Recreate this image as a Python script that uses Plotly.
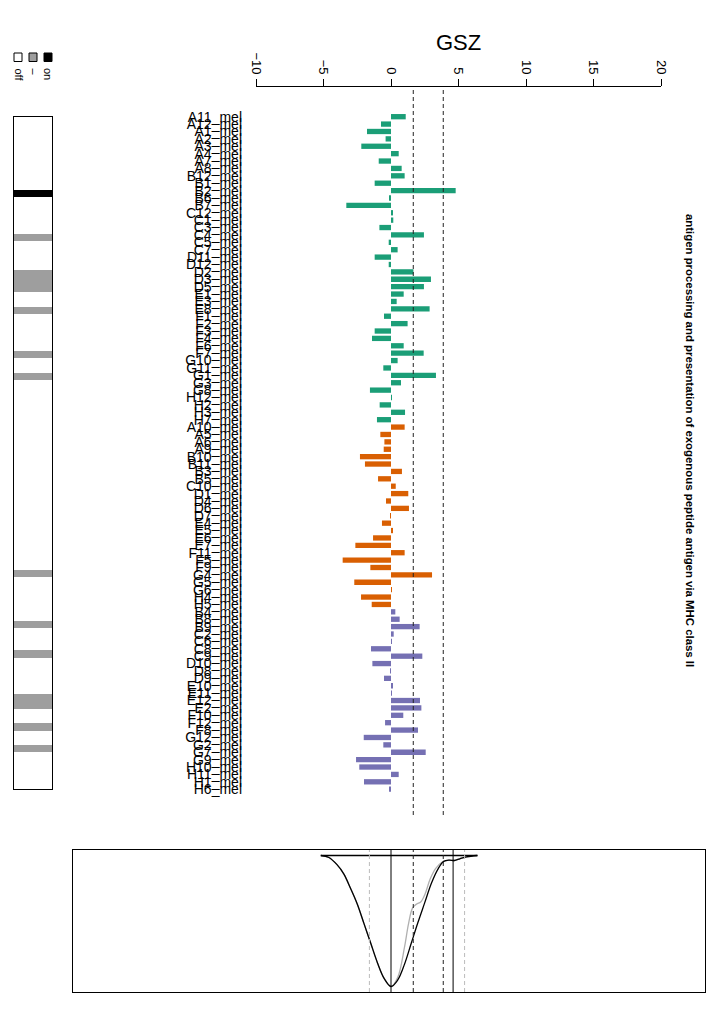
import plotly.graph_objects as go

W, H = 720, 1018

# ---------------- data ----------------
wells_green = ["A11", "A12", "A1", "A2", "A3", "A4", "A7", "A8", "B12", "B1", "B2", "B6", "B7",
               "C12", "C1", "C3", "C4", "C5", "C7", "D11", "D12", "D2", "D3", "D5", "E1", "E3",
               "E8", "F1", "F2", "F3", "F4", "F6", "F7", "G10", "G11", "G1", "G3", "G8", "H12",
               "H2", "H3", "H7"]
gsz_green = [1.09, -0.74, -1.78, -0.40, -2.20, 0.57, -0.91, 0.79, 1.01, -1.21, 4.79, -0.10, -3.31,
             0.15, 0.17, -0.86, 2.44, -0.17, 0.49, -1.21, -0.17, 1.66, 2.96, 2.44, 0.94, 0.42,
             2.86, -0.52, 1.23, -1.21, -1.41, 0.94, 2.42, 0.49, -0.57, 3.33, 0.74, -1.56, 0.07,
             -0.84, 1.04, -1.04]

wells_orange = ["A10", "A5", "A6", "A9", "B10", "B11", "B3", "B5", "C10", "D1", "D4", "D6", "D7",
                "E4", "E5", "E6", "E7", "F11", "F5", "F9", "G4", "G5", "G6", "H4", "H5"]
gsz_orange = [1.01, -0.79, -0.49, -0.54, -2.30, -1.93, 0.81, -0.96, 0.35, 1.28, -0.37, 1.33, -0.02,
              -0.67, 0.15, -1.33, -2.64, 1.01, -3.58, -1.53, 3.04, -2.72, 0.05, -2.22, -1.43]

wells_purple = ["B4", "B8", "B9", "C2", "C6", "C8", "C9", "D10", "D8", "D9", "E10", "E11", "E12",
                "E2", "F10", "F12", "F8", "G12", "G2", "G7", "G9", "H10", "H11", "H1", "H6"]
gsz_purple = [0.32, 0.64, 2.12, 0.20, 0.05, -1.48, 2.32, -1.38, -0.05, -0.52, 0.10, 0.02, 2.15,
              2.25, 0.91, -0.44, 2.00, -2.02, -0.57, 2.57, -2.59, -2.35, 0.57, -2.00, -0.10]

# membership strip: 0 = off, 1 = "-", 2 = on  (one entry per row, top to bottom)
strip_state = [0, 0, 0, 0, 0, 0, 0, 0, 0, 0, 2, 0, 0, 0, 0, 0, 1, 0, 0, 0, 0, 1, 1, 1, 0, 0, 1,
               0, 0, 0, 0, 0, 1, 0, 0, 1, 0, 0, 0, 0, 0, 0,
               0, 0, 0, 0, 0, 0, 0, 0, 0, 0, 0, 0, 0, 0, 0, 0, 0, 0, 0, 0, 1, 0, 0, 0, 0,
               0, 0, 1, 0, 0, 0, 1, 0, 0, 0, 0, 0, 1, 1, 0, 0, 1, 0, 0, 1, 0, 0, 0, 0, 0]

thresholds = [1.65, 3.87]
set_value = 4.6
light_lines = [-1.6, 5.45]

# density panel curves (GSZ value, relative density)
dens_black_x = [-5.2, -4.6, -4.0, -3.5, -3.0, -2.5, -2.0, -1.5, -1.0, -0.5, 0.0, 0.5, 1.0, 1.5,
                2.0, 2.5, 3.0, 3.5, 3.9, 4.3, 4.7, 5.1, 5.6, 6.4]
dens_black_y = [0.0, 0.015, 0.07, 0.14, 0.25, 0.37, 0.52, 0.67, 0.82, 0.94, 1.0, 0.95, 0.83, 0.67,
                0.51, 0.36, 0.21, 0.10, 0.045, 0.035, 0.038, 0.025, 0.01, 0.0]
dens_gray_x = [-5.2, -4.6, -4.0, -3.5, -3.0, -2.5, -2.0, -1.5, -1.0, -0.5, 0.0, 0.5, 1.0, 1.3,
               1.6, 1.9, 2.2, 2.5, 2.9, 3.3, 3.8, 4.3, 4.7, 5.1, 5.6, 6.4]
dens_gray_y = [0.0, 0.015, 0.07, 0.14, 0.25, 0.37, 0.52, 0.67, 0.82, 0.94, 1.0, 0.93, 0.70, 0.52,
               0.40, 0.37, 0.355, 0.30, 0.18, 0.10, 0.05, 0.035, 0.038, 0.025, 0.01, 0.0]

title_text = "antigen processing and presentation of exogenous peptide antigen via MHC class II"

# ---------------- layout helpers ----------------
def px_x(p):
    return p / W

def px_y(p):
    return 1 - p / H

FONT = "Liberation Sans, Arial, Helvetica, sans-serif"

wells = wells_green + wells_orange + wells_purple
n = len(wells)
labels = [w + "_mel" for w in wells]

fig = go.Figure()

groups = [(wells_green, gsz_green, "#1B9E77"),
          (wells_orange, gsz_orange, "#D95F02"),
          (wells_purple, gsz_purple, "#7570B3")]
start = 0
for ws, vals, col in groups:
    idx = list(range(start, start + len(ws)))
    fig.add_trace(go.Bar(x=vals, y=idx, orientation="h", marker=dict(color=col, line=dict(width=0)),
                         xaxis="x", yaxis="y", showlegend=False, hoverinfo="x+y"))
    start += len(ws)

# invisible trace for top axis
fig.add_trace(go.Scatter(x=[-10, 20], y=[0, 0], mode="markers", marker=dict(opacity=0),
                         xaxis="x2", yaxis="y2", showlegend=False, hoverinfo="skip"))

# membership strip
fig.add_trace(go.Heatmap(z=[[s] for s in strip_state], x=[0], y=list(range(n)),
                         xaxis="x3", yaxis="y3", zmin=0, zmax=2, showscale=False,
                         colorscale=[[0, "white"], [0.25, "white"], [0.25, "#9e9e9e"],
                                     [0.75, "#9e9e9e"], [0.75, "black"], [1, "black"]],
                         hoverinfo="skip"))

# density panel
fig.add_trace(go.Scatter(x=dens_gray_x, y=dens_gray_y, mode="lines",
                         line=dict(color="#b0b0b0", width=1.3, shape="spline"),
                         xaxis="x4", yaxis="y4", showlegend=False))
fig.add_trace(go.Scatter(x=dens_black_x, y=dens_black_y, mode="lines",
                         line=dict(color="black", width=1.3, shape="spline"),
                         xaxis="x4", yaxis="y4", showlegend=False))
fig.add_trace(go.Scatter(x=[dens_black_x[0], dens_black_x[-1]], y=[0, 0], mode="lines",
                         line=dict(color="black", width=1.3),
                         xaxis="x4", yaxis="y4", showlegend=False))

row_top, row_bot = 113.0, 792.9
ydom = [px_y(row_bot), px_y(row_top)]
xdom = [px_x(256), px_x(661)]

shapes = []
for t in thresholds:
    shapes.append(dict(type="line", xref="x", yref="paper", x0=t, x1=t,
                       y0=px_y(815), y1=px_y(90), line=dict(color="#222", width=1, dash="4px,3px")))
# density panel verticals
for v in [0.0, set_value]:
    shapes.append(dict(type="line", xref="x4", yref="y4 domain", x0=v, x1=v, y0=0, y1=1,
                       line=dict(color="black", width=1)))
for t in thresholds:
    shapes.append(dict(type="line", xref="x4", yref="y4 domain", x0=t, x1=t, y0=0, y1=1,
                       line=dict(color="#222", width=1, dash="4px,3px")))
for v in light_lines:
    shapes.append(dict(type="line", xref="x4", yref="y4 domain", x0=v, x1=v, y0=0, y1=1,
                       line=dict(color="#bbbbbb", width=1, dash="4px,3px")))
# legend squares
leg_cols = ["white", "#9e9e9e", "black"]
leg_text = ["off", "–", "on"]
leg_x = [18, 33, 48]
for cx, c in zip(leg_x, leg_cols):
    shapes.append(dict(type="rect", xref="paper", yref="paper",
                       x0=px_x(cx - 4), x1=px_x(cx + 4), y0=px_y(61.5), y1=px_y(53),
                       fillcolor=c, line=dict(color="black", width=1)))

annotations = [
    dict(text="GSZ", xref="paper", yref="paper", x=px_x(458.5), y=px_y(42), showarrow=False,
         font=dict(size=22, family=FONT, color="black"), xanchor="center", yanchor="middle"),
    dict(text="<b>" + title_text + "</b>", xref="paper", yref="paper", x=px_x(690), y=px_y(440),
         showarrow=False, textangle=90, font=dict(size=11.4, family=FONT, color="black"),
         xanchor="center", yanchor="middle"),
]
for cx, t in zip(leg_x, leg_text):
    annotations.append(dict(text=t, xref="paper", yref="paper", x=px_x(cx), y=px_y(66),
                            showarrow=False, textangle=90, xanchor="center", yanchor="top",
                            font=dict(size=11, family=FONT, color="black")))

noauto = dict(automargin=False)
fig.update_layout(
    width=W, height=H, margin=dict(l=0, r=0, t=0, b=0, pad=0, autoexpand=False),
    paper_bgcolor="white", plot_bgcolor="rgba(0,0,0,0)",
    bargap=0.28, showlegend=False,
    shapes=shapes, annotations=annotations,
    xaxis=dict(domain=xdom, range=[-10, 20], visible=False, anchor="y", **noauto),
    yaxis=dict(domain=ydom, range=[n - 0.5, -0.5], anchor="x", showgrid=False, zeroline=False,
               tickmode="array", tickvals=list(range(n)), ticktext=labels,
               tickfont=dict(size=14, family=FONT, color="black"), ticks="",
               ticklabelstandoff=13, showline=False, **noauto),
    xaxis2=dict(domain=xdom, range=[-10, 20], anchor="y2", side="top", showline=True,
                linecolor="black", linewidth=1, ticks="outside", ticklen=7, tickcolor="black",
                tickvals=[-10, -5, 0, 5, 10, 15, 20],
                ticktext=["−10", "−5", "0", "5", "10", "15", "20"], tickangle=90,
                tickfont=dict(size=13, family=FONT, color="black"), showgrid=False,
                zeroline=False, **noauto),
    yaxis2=dict(domain=[px_y(87) - 0.01, px_y(87)], anchor="x2", visible=False, range=[0, 1],
                **noauto),
    xaxis3=dict(domain=[px_x(14), px_x(52)], range=[-0.5, 0.5], anchor="y3", showline=True,
                mirror=True, linecolor="black", linewidth=1, showticklabels=False, ticks="",
                showgrid=False, zeroline=False, **noauto),
    yaxis3=dict(domain=[px_y(789), px_y(117)], range=[n - 0.5, -0.5], anchor="x3", showline=True,
                mirror=True, linecolor="black", linewidth=1, showticklabels=False, ticks="",
                showgrid=False, zeroline=False, **noauto),
    xaxis4=dict(domain=[px_x(73), px_x(705)], range=[(73 - 391) / 13.5, (705 - 391) / 13.5],
                anchor="y4", showline=True, mirror=True, linecolor="black", linewidth=1,
                showticklabels=False, ticks="", showgrid=False, zeroline=False, **noauto),
    yaxis4=dict(domain=[px_y(992), px_y(850)], range=[1 + 5.5 / 131, -5.5 / 131], anchor="x4",
                showline=True, mirror=True, linecolor="black", linewidth=1,
                showticklabels=False, ticks="", showgrid=False, zeroline=False, **noauto),
)

fig.write_html("out.html", config={"displayModeBar": False},
               post_script="document.body.style.margin='0';document.body.style.padding='0';"
                           "document.documentElement.style.overflow='hidden';")
